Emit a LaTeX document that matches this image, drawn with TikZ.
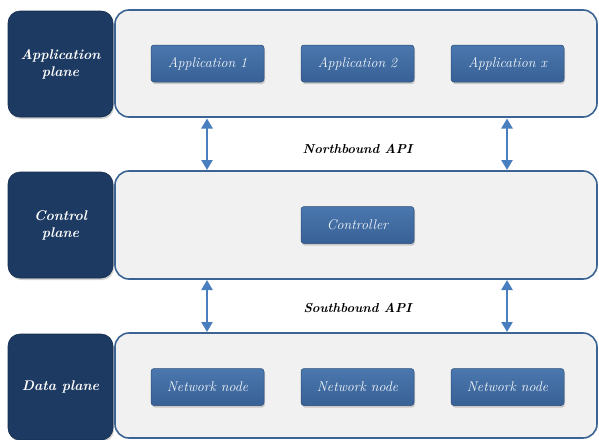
\documentclass[tikz,border=0pt]{standalone}
\usepackage{fontspec}
\setmainfont{Latin Modern Roman}
\usetikzlibrary{shadows,arrows.meta}
\definecolor{darkbox}{HTML}{1D3A62}
\definecolor{btntop}{HTML}{4A77AE}
\definecolor{btnbot}{HTML}{386196}
\definecolor{frame}{HTML}{3B6494}
\definecolor{lightfill}{HTML}{F1F1F1}
\definecolor{arrowc}{HTML}{4A7FBF}
\definecolor{btntext}{HTML}{F3F6FA}
\tikzset{
  planebox/.style={draw=darkbox!80!black, line width=0.6pt, fill=darkbox, rounded corners=12pt,
    drop shadow={shadow xshift=1pt, shadow yshift=-2pt, opacity=0.35},
    text=white, align=center, font=\fontsize{14}{17}\selectfont\bfseries\itshape},
  layerbox/.style={draw=frame, line width=1.6pt, fill=lightfill, rounded corners=14pt},
  btnbox/.style={draw=btnbot!80!black, line width=0.5pt, top color=btntop, bottom color=btnbot,
    rounded corners=3pt, drop shadow={shadow xshift=1pt, shadow yshift=-2pt, opacity=0.35},
    text=btntext, font=\fontsize{14}{17}\selectfont\itshape,
    minimum width=113pt, minimum height=37pt},
  apilabel/.style={font=\fontsize{13}{15}\selectfont\bfseries\itshape, text=black},
  dblarrow/.style={draw=arrowc, line width=2.6pt, {Triangle[width=11pt,length=10pt]}-{Triangle[width=11pt,length=10pt]}}
}
\begin{document}
\begin{tikzpicture}[x=1pt,y=-1pt]
\useasboundingbox (0,0) rectangle (599,439);
% layer boxes
\draw[layerbox] (115,10) rectangle (597,117);
\draw[layerbox] (115,171) rectangle (597,279);
\draw[layerbox] (115,333) rectangle (597,438);
% plane boxes
\node[planebox, minimum width=105pt, minimum height=106pt] (ap) at (60.5,64) {Application\\plane};
\node[planebox, minimum width=105pt, minimum height=106pt] (cp) at (60.5,225) {Control\\plane};
\node[planebox, minimum width=105pt, minimum height=106pt] (dp) at (60.5,387) {Data plane};
% buttons
\node[btnbox] (a1) at (207.5,63.5) {Application 1};
\node[btnbox] (a2) at (357.5,63.5) {Application 2};
\node[btnbox] (ax) at (507.5,63.5) {Application x};
\node[btnbox] (ctl) at (357.5,225) {Controller};
\node[btnbox] (n1) at (207.5,387) {Network node};
\node[btnbox] (n2) at (357.5,387) {Network node};
\node[btnbox] (n3) at (507.5,387) {Network node};
% arrow end points
\coordinate (t1) at (207,118.5);
\coordinate (b1) at (207,170);
\coordinate (t2) at (507,118.5);
\coordinate (b2) at (507,170);
\coordinate (t3) at (207,280);
\coordinate (b3) at (207,332);
\coordinate (t4) at (507,280);
\coordinate (b4) at (507,332);
\draw[dblarrow] (t1) -- (b1);
\draw[dblarrow] (t2) -- (b2);
\draw[dblarrow] (t3) -- (b3);
\draw[dblarrow] (t4) -- (b4);
% API labels
\node[apilabel] (nb) at (357.5,149) {Northbound API};
\node[apilabel] (sb) at (357.5,308) {Southbound API};
\end{tikzpicture}
\end{document}
